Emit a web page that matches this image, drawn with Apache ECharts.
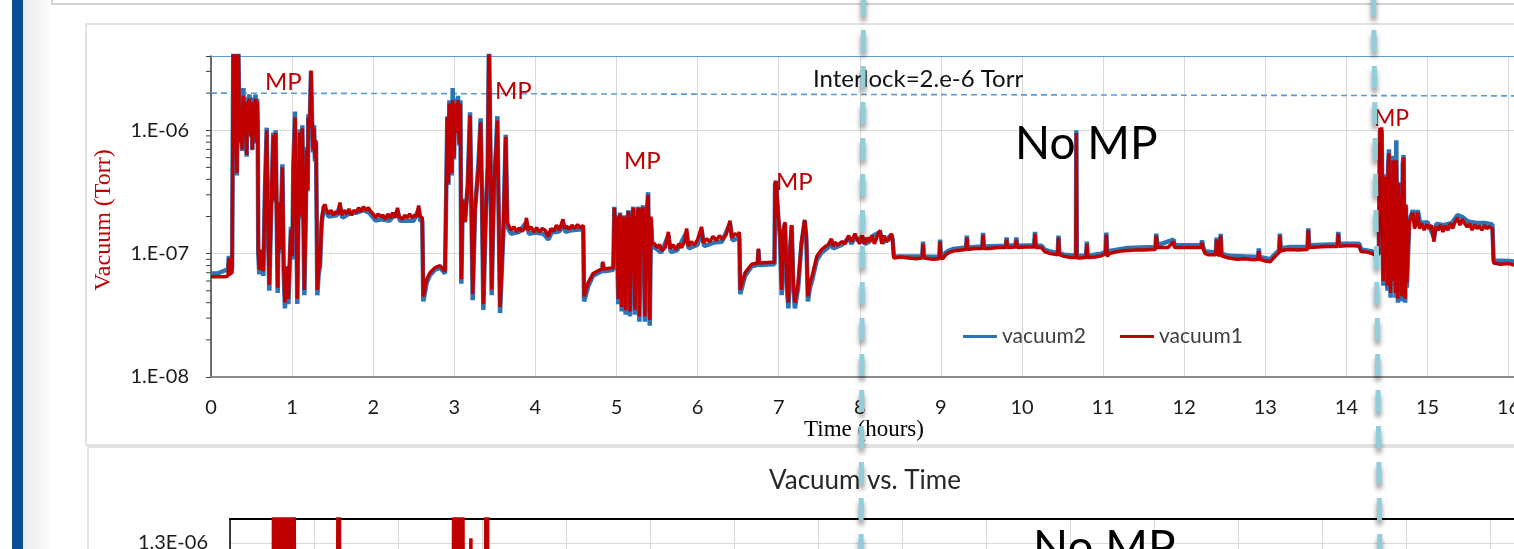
<!DOCTYPE html>
<html><head><meta charset="utf-8">
<script src="https://cdn.jsdelivr.net/npm/echarts@6/dist/echarts.min.js"></script>
<style>html,body{margin:0;padding:0;background:#fff;overflow:hidden}#c{width:1514px;height:549px}</style>
</head><body><div id="c"></div>
<script>
// ---- data (time in hours, vacuum in Torr) ----
const vacuum1 = [
[0.00,6.5e-8],[0.08,6.5e-8],[0.17,6.5e-8],[0.21,6.6e-8],[0.22,9.2e-8],[0.23,6.8e-8],[0.26,7.0e-8],
[0.275,5e-6],[0.29,6e-6],[0.305,1.1e-6],[0.32,4.5e-7],[0.335,6e-6],[0.35,1.05e-6],
[0.355,1.3e-6],[0.362,8e-7],[0.37,1.5e-6],[0.377,9e-7],[0.385,7e-7],[0.392,1.6e-6],[0.40,1.9e-6],[0.407,1.1e-6],[0.415,1.0e-6],[0.42,1.6e-6],[0.425,1.7e-6],[0.432,9e-7],[0.44,6.3e-7],[0.445,1.4e-6],[0.45,1.6e-6],[0.455,1.0e-6],[0.46,1.2e-6],[0.467,1.7e-6],[0.475,1.8e-6],[0.482,1.1e-6],[0.49,9e-7],[0.495,1.5e-6],[0.50,1.7e-6],[0.505,1.1e-6],[0.51,7e-7],[0.517,1.3e-6],[0.525,1.5e-6],[0.53,1.2e-6],[0.535,1.0e-6],[0.542,1.6e-6],[0.55,1.8e-6],[0.555,1.1e-6],[0.56,8e-7],[0.565,1.5e-6],[0.57,1.7e-6],[0.576,1.2e-6],
[0.583,1.08e-7],[0.596,7.4e-8],[0.615,1.08e-7],[0.645,7.2e-8],[0.665,3.1e-7],[0.687,1.0e-6],[0.70,2.0e-7],[0.719,5.6e-8],[0.745,2.7e-7],[0.768,9.1e-7],[0.782,2.7e-7],[0.797,9.5e-7],[0.822,5.3e-8],[0.838,2.6e-7],[0.851,1.08e-7],[0.880,5.0e-7],[0.896,7.9e-8],[0.912,4.0e-8],[0.933,7.9e-8],[0.954,4.3e-8],[0.975,1.08e-7],[0.986,1.56e-7],[1.003,9.5e-8],[1.015,4.75e-7],[1.036,1.27e-6],[1.052,2.0e-7],[1.064,4.3e-8],[1.080,2.7e-7],[1.097,9.6e-7],[1.110,2.0e-7],[1.126,1.04e-6],[1.151,5.1e-8],[1.168,2.0e-7],[1.180,6.9e-7],[1.192,3.3e-7],[1.200,1.27e-6],[1.217,1.05e-6],[1.233,3.05e-6],[1.245,1.27e-6],[1.258,6.9e-7],[1.270,1.05e-6],[1.282,6.0e-7],[1.295,8.3e-7],[1.311,5.1e-8],[1.328,7.4e-8],[1.344,8.4e-8],[1.365,1.88e-7],[1.385,2.4e-7],[1.406,2.5e-7],
[1.42,2.3e-7],[1.45,2.1e-7],[1.48,2.25e-7],[1.51,2.05e-7],[1.54,2.2e-7],[1.57,2.1e-7],[1.59,2.6e-7],[1.61,2.05e-7],[1.64,2.25e-7],[1.67,2.1e-7],[1.70,2.3e-7],[1.73,2.05e-7],[1.76,2.25e-7],[1.79,2.15e-7],[1.82,2.35e-7],[1.85,2.2e-7],[1.88,2.4e-7],[1.91,2.25e-7],[1.94,2.35e-7],[1.97,2.2e-7],[2.00,2.1e-7],[2.03,1.95e-7],[2.06,2.1e-7],[2.09,2.0e-7],[2.12,2.05e-7],[2.15,1.9e-7],[2.18,2.1e-7],[2.21,1.95e-7],[2.24,2.15e-7],[2.27,1.95e-7],[2.30,2.35e-7],[2.32,2.0e-7],[2.36,1.9e-7],[2.39,2.05e-7],[2.42,1.95e-7],[2.45,2.1e-7],[2.48,1.95e-7],[2.51,2.05e-7],[2.54,2.0e-7],[2.56,2.45e-7],[2.58,2.0e-7],[2.605,1.95e-7],
[2.618,4.5e-8],[2.659,6.2e-8],[2.70,7.0e-8],[2.762,7.7e-8],[2.824,8.0e-8],[2.886,7.2e-8],[2.905,7.3e-8],[2.914,1.27e-6],[2.927,3.7e-7],[2.939,1.65e-6],[2.955,6.9e-7],[2.968,4.5e-7],[2.980,1.75e-6],[2.997,6.0e-7],[3.009,1.65e-6],[3.030,9.5e-7],[3.046,1.75e-6],[3.063,7.8e-7],[3.075,1.65e-6],[3.087,6.2e-8],[3.104,2.7e-7],[3.132,1.8e-7],[3.165,3.5e-7],[3.194,1.32e-6],[3.210,2.7e-7],[3.227,4.7e-8],[3.256,2.27e-7],[3.297,5.0e-7],[3.325,1.16e-6],[3.342,2.7e-7],[3.358,3.9e-8],[3.391,2.4e-7],[3.412,5.0e-7],[3.428,6e-6],[3.445,6.9e-7],[3.461,5.1e-8],[3.490,3.7e-7],[3.515,6.9e-7],[3.531,1.2e-6],[3.548,2.0e-7],[3.564,3.7e-8],[3.605,1.56e-7],[3.634,8.8e-7],[3.654,1.78e-7],
[3.67,1.75e-7],[3.70,1.55e-7],[3.735,1.65e-7],[3.77,1.5e-7],[3.80,1.62e-7],[3.835,1.52e-7],[3.87,1.6e-7],[3.89,1.95e-7],[3.91,1.55e-7],[3.945,1.65e-7],[3.98,1.5e-7],[4.015,1.62e-7],[4.05,1.5e-7],[4.085,1.6e-7],[4.12,1.55e-7],[4.16,1.38e-7],[4.19,1.6e-7],[4.225,1.52e-7],[4.26,1.7e-7],[4.295,1.55e-7],[4.34,1.9e-7],[4.36,1.6e-7],[4.38,1.68e-7],[4.415,1.58e-7],[4.45,1.7e-7],[4.485,1.6e-7],[4.52,1.72e-7],[4.555,1.62e-7],[4.59,1.7e-7],
[4.60,4.5e-8],[4.65,5.8e-8],[4.71,6.9e-8],[4.797,7.4e-8],[4.825,7.5e-8],[4.83,8.6e-8],[4.846,7.5e-8],[4.961,7.7e-8],
[4.973,2.35e-7],[4.99,1.3e-7],[5.002,2.0e-7],[5.022,4.3e-8],[5.035,1.5e-7],[5.043,2.1e-7],[5.064,3.7e-8],[5.08,1.8e-7],[5.093,2.0e-7],[5.113,3.5e-8],[5.13,1.6e-7],[5.146,2.2e-7],[5.167,3.4e-8],[5.19,1.9e-7],[5.208,2.35e-7],[5.228,3.5e-8],[5.245,1.7e-7],[5.269,2.35e-7],[5.282,3.1e-8],[5.30,2.2e-7],[5.33,2.35e-7],[5.35,3.1e-8],[5.37,2.0e-7],[5.39,3.0e-7],[5.41,2.9e-8],[5.425,2.0e-7],[5.44,1.23e-7],
[5.47,1.2e-7],[5.50,1.12e-7],[5.53,1.18e-7],[5.56,1.06e-7],[5.60,1.12e-7],[5.64,1.5e-7],[5.66,1.1e-7],[5.70,1.18e-7],[5.73,1.08e-7],[5.77,1.2e-7],[5.80,1.12e-7],[5.84,1.25e-7],[5.865,1.6e-7],[5.885,1.15e-7],[5.92,1.25e-7],[5.96,1.18e-7],[6.00,1.3e-7],[6.05,1.65e-7],[6.07,1.22e-7],[6.11,1.32e-7],[6.15,1.25e-7],[6.19,1.38e-7],[6.23,1.28e-7],[6.27,1.4e-7],[6.31,1.3e-7],[6.35,1.42e-7],[6.40,1.85e-7],[6.42,1.35e-7],[6.46,1.45e-7],[6.50,1.4e-7],[6.515,1.5e-7],
[6.525,5.1e-8],[6.585,7.0e-8],[6.667,8.2e-8],[6.74,8.4e-8],[6.75,1.1e-7],[6.76,8.4e-8],[6.913,8.5e-8],[6.948,8.5e-8],
[6.955,3.7e-7],[6.967,3.85e-7],[6.996,2.0e-7],[7.016,1.4e-7],[7.037,5.1e-8],[7.058,1.56e-7],[7.078,1.8e-7],[7.10,5.8e-8],[7.12,4.0e-8],[7.14,1.1e-7],[7.16,1.7e-7],[7.18,5.8e-8],[7.20,4.0e-8],[7.22,4.8e-8],[7.24,5.8e-8],[7.28,1.23e-7],[7.32,1.88e-7],[7.34,1.4e-7],[7.36,4.5e-8],[7.385,5.8e-8],
[7.41,6.5e-8],[7.47,9.5e-8],[7.53,1.08e-7],[7.58,1.15e-7],[7.61,1.18e-7],[7.65,1.32e-7],[7.67,1.15e-7],[7.69,1.23e-7],[7.73,1.18e-7],[7.78,1.25e-7],[7.82,1.2e-7],[7.86,1.4e-7],[7.90,1.25e-7],[7.94,1.45e-7],
[7.97,1.3e-7],[8.00,1.2e-7],[8.03,1.4e-7],[8.06,1.2e-7],[8.09,1.35e-7],[8.12,1.25e-7],[8.15,1.4e-7],[8.18,1.2e-7],[8.21,1.35e-7],[8.25,1.55e-7],[8.27,1.2e-7],[8.30,1.4e-7],[8.33,1.25e-7],[8.36,1.3e-7],[8.39,1.45e-7],[8.405,1.3e-7],
[8.42,9.2e-8],[8.50,9.4e-8],[8.60,9.2e-8],[8.70,9.1e-8],[8.77,9.2e-8],[8.78,1.2e-7],[8.79,9.2e-8],[8.90,9.0e-8],[8.98,9.1e-8],[8.99,1.25e-7],[9.00,9.1e-8],[9.03,9.2e-8],[9.06,9.8e-8],[9.10,1.02e-7],[9.15,1.05e-7],[9.20,1.06e-7],[9.31,1.08e-7],[9.32,1.35e-7],[9.33,1.08e-7],[9.42,1.1e-7],[9.51,1.1e-7],[9.52,1.42e-7],[9.53,1.1e-7],[9.60,1.1e-7],[9.70,1.12e-7],[9.80,1.12e-7],[9.81,1.3e-7],[9.82,1.12e-7],[9.92,1.13e-7],[9.93,1.3e-7],[9.94,1.12e-7],[10.05,1.13e-7],[10.15,1.13e-7],[10.16,1.45e-7],[10.17,1.12e-7],[10.24,1.12e-7],[10.28,1.04e-7],[10.35,1.0e-7],[10.44,9.8e-8],[10.45,1.35e-7],[10.46,9.8e-8],[10.52,9.5e-8],[10.60,9.3e-8],[10.665,9.3e-8],[10.67,9.5e-7],[10.675,9.3e-8],[10.70,9.2e-8],[10.79,9.3e-8],[10.80,1.2e-7],[10.81,9.3e-8],[10.90,9.4e-8],[10.98,9.6e-8],[11.03,1.0e-7],[11.04,1.42e-7],[11.05,9.5e-8],[11.08,1.0e-7],[11.15,1.03e-7],[11.22,1.05e-7],[11.30,1.06e-7],[11.40,1.07e-7],[11.50,1.07e-7],[11.60,1.08e-7],[11.645,1.08e-7],[11.655,1.4e-7],[11.67,1.12e-7],[11.80,1.12e-7],[11.87,1.25e-7],[11.88,1.12e-7],[12.00,1.12e-7],[12.10,1.12e-7],[12.21,1.12e-7],[12.22,1.23e-7],[12.23,1.1e-7],[12.26,1.0e-7],[12.30,9.8e-8],[12.39,9.8e-8],[12.40,1.3e-7],[12.41,9.8e-8],[12.44,9.7e-8],[12.45,1.4e-7],[12.46,9.6e-8],[12.55,9.2e-8],[12.65,9.0e-8],[12.75,9.1e-8],[12.85,8.9e-8],[12.91,9.0e-8],[12.92,1.05e-7],[12.93,9.0e-8],[13.00,8.7e-8],[13.06,8.6e-8],[13.12,9.5e-8],[13.17,1.02e-7],[13.18,1.4e-7],[13.19,1.05e-7],[13.24,1.07e-7],[13.30,1.08e-7],[13.40,1.07e-7],[13.52,1.08e-7],[13.53,1.56e-7],[13.54,1.12e-7],[13.65,1.13e-7],[13.75,1.14e-7],[13.89,1.14e-7],[13.90,1.45e-7],[13.91,1.15e-7],[14.00,1.16e-7],[14.10,1.16e-7],[14.16,1.15e-7],[14.18,1.04e-7],[14.25,1.03e-7],[14.32,1.0e-7],[14.37,9.6e-8],[14.40,1.0e-7],
[14.414,1.05e-6],[14.425,3e-7],[14.435,1.06e-6],[14.445,2e-7],[14.455,6e-8],[14.465,3.5e-7],[14.475,8e-8],[14.485,4.2e-7],[14.495,1.5e-7],[14.505,5.5e-8],[14.515,5e-7],[14.525,6.5e-7],[14.535,1.2e-7],[14.545,4.8e-8],[14.555,4e-7],[14.565,6e-8],[14.575,5.7e-7],[14.585,2.5e-7],[14.595,5.5e-7],[14.605,4.8e-8],[14.615,5.7e-7],[14.625,1.5e-7],[14.635,4.3e-8],[14.645,3.7e-7],[14.655,6e-8],[14.665,3e-7],[14.675,1.2e-7],[14.685,4.5e-8],[14.695,5e-7],[14.705,6.0e-7],[14.715,1.5e-7],[14.725,4.3e-8],[14.735,2.5e-7],[14.745,5.8e-8],[14.755,8.4e-8],[14.775,1.8e-7],
[14.79,1.75e-7],[14.82,2.15e-7],[14.84,1.6e-7],[14.86,1.75e-7],[14.88,2.15e-7],[14.90,1.6e-7],[14.93,1.75e-7],[14.96,1.55e-7],[14.99,1.72e-7],[15.02,1.6e-7],[15.05,1.7e-7],[15.08,1.25e-7],[15.10,1.65e-7],[15.13,1.55e-7],[15.16,1.7e-7],[15.19,1.5e-7],[15.22,1.68e-7],[15.25,1.55e-7],[15.28,1.75e-7],[15.31,1.6e-7],[15.34,1.8e-7],[15.37,1.95e-7],[15.40,1.7e-7],[15.43,1.9e-7],[15.46,1.75e-7],[15.49,1.65e-7],[15.52,1.75e-7],[15.55,1.55e-7],[15.58,1.72e-7],[15.61,1.6e-7],[15.64,1.68e-7],[15.67,1.55e-7],[15.70,1.7e-7],[15.73,1.6e-7],[15.76,1.65e-7],[15.80,1.6e-7],
[15.815,8.4e-8],[15.90,8.2e-8],[16.00,8.3e-8],[16.10,8.0e-8],[16.30,8.0e-8]
];

const vacuum2 = [
[0.00,6.9e-8],[0.08,6.9e-8],[0.17,7.3e-8],[0.21,7.4e-8],[0.22,9.6e-8],[0.23,7.4e-8],[0.26,7.6e-8],
[0.275,5e-6],[0.29,6e-6],[0.305,1.15e-6],[0.32,4.3e-7],[0.335,6e-6],[0.35,1.1e-6],
[0.355,1.4e-6],[0.362,7.8e-7],[0.37,1.6e-6],[0.377,8.8e-7],[0.385,6.8e-7],[0.392,1.75e-6],[0.40,2.2e-6],[0.407,1.15e-6],[0.415,1.0e-6],[0.42,1.75e-6],[0.425,1.85e-6],[0.432,8.8e-7],[0.44,6.1e-7],[0.445,1.5e-6],[0.45,1.75e-6],[0.455,1.0e-6],[0.46,1.25e-6],[0.467,1.85e-6],[0.475,1.95e-6],[0.482,1.1e-6],[0.49,8.8e-7],[0.495,1.6e-6],[0.50,1.85e-6],[0.505,1.1e-6],[0.51,6.9e-7],[0.517,1.4e-6],[0.525,1.6e-6],[0.53,1.25e-6],[0.535,1.0e-6],[0.542,1.75e-6],[0.55,1.95e-6],[0.555,1.1e-6],[0.56,7.8e-7],[0.565,1.6e-6],[0.57,1.8e-6],[0.576,1.2e-6],
[0.583,1.0e-7],[0.596,6.8e-8],[0.615,1.05e-7],[0.645,6.6e-8],[0.665,3.2e-7],[0.687,1.05e-6],[0.70,1.9e-7],[0.719,5.0e-8],[0.745,2.8e-7],[0.768,9.6e-7],[0.782,2.6e-7],[0.797,1.0e-6],[0.822,4.8e-8],[0.838,2.6e-7],[0.851,1.0e-7],[0.880,5.3e-7],[0.896,7.3e-8],[0.912,3.6e-8],[0.933,7.3e-8],[0.954,3.9e-8],[0.975,1.0e-7],[0.986,1.65e-7],[1.003,9.0e-8],[1.015,5.0e-7],[1.036,1.42e-6],[1.052,1.9e-7],[1.064,3.9e-8],[1.080,2.8e-7],[1.097,1.02e-6],[1.110,1.9e-7],[1.126,1.1e-6],[1.151,4.6e-8],[1.168,1.9e-7],[1.180,7.3e-7],[1.192,3.2e-7],[1.200,1.35e-6],[1.217,1.1e-6],[1.233,3.0e-6],[1.245,1.3e-6],[1.258,6.6e-7],[1.270,1.1e-6],[1.282,5.6e-7],[1.295,8.0e-7],[1.311,4.6e-8],[1.328,6.9e-8],[1.344,7.9e-8],[1.365,1.8e-7],[1.385,2.2e-7],[1.406,2.3e-7],
[1.45,2.0e-7],[1.55,2.05e-7],[1.59,2.45e-7],[1.62,1.95e-7],[1.70,2.1e-7],[1.80,2.15e-7],[1.88,2.25e-7],[1.95,2.15e-7],[2.03,1.85e-7],[2.10,1.9e-7],[2.20,1.85e-7],[2.30,2.2e-7],[2.33,1.85e-7],[2.40,1.85e-7],[2.50,1.85e-7],[2.56,2.3e-7],[2.58,1.85e-7],[2.605,1.85e-7],
[2.618,4.1e-8],[2.659,5.8e-8],[2.70,6.7e-8],[2.762,7.4e-8],[2.824,7.7e-8],[2.886,6.9e-8],[2.905,7.0e-8],[2.914,1.3e-6],[2.927,3.6e-7],[2.939,1.75e-6],[2.955,6.7e-7],[2.968,4.3e-7],[2.980,2.2e-6],[2.997,5.8e-7],[3.009,1.8e-6],[3.030,9.5e-7],[3.046,1.9e-6],[3.063,7.5e-7],[3.075,1.75e-6],[3.087,5.7e-8],[3.104,2.8e-7],[3.132,1.8e-7],[3.165,3.6e-7],[3.194,1.4e-6],[3.210,2.6e-7],[3.227,4.2e-8],[3.256,2.3e-7],[3.297,5.2e-7],[3.325,1.25e-6],[3.342,2.6e-7],[3.358,3.5e-8],[3.391,2.4e-7],[3.412,5.2e-7],[3.428,6e-6],[3.445,6.7e-7],[3.461,4.6e-8],[3.490,3.8e-7],[3.515,7.2e-7],[3.531,1.3e-6],[3.548,1.9e-7],[3.564,3.3e-8],[3.605,1.5e-7],[3.634,9.2e-7],[3.654,1.65e-7],
[3.70,1.45e-7],[3.80,1.5e-7],[3.89,1.8e-7],[3.92,1.45e-7],[4.00,1.48e-7],[4.10,1.45e-7],[4.16,1.3e-7],[4.20,1.48e-7],[4.30,1.52e-7],[4.34,1.75e-7],[4.37,1.5e-7],[4.45,1.55e-7],[4.59,1.58e-7],
[4.60,4.1e-8],[4.65,5.4e-8],[4.71,6.6e-8],[4.797,7.1e-8],[4.825,7.2e-8],[4.83,8.4e-8],[4.846,7.2e-8],[4.961,7.4e-8],
[4.973,2.4e-7],[4.99,1.25e-7],[5.002,2.05e-7],[5.022,3.9e-8],[5.035,1.45e-7],[5.043,2.15e-7],[5.064,3.4e-8],[5.08,1.75e-7],[5.093,2.05e-7],[5.113,3.2e-8],[5.13,1.55e-7],[5.146,2.25e-7],[5.167,3.1e-8],[5.19,1.85e-7],[5.208,2.4e-7],[5.228,3.2e-8],[5.245,1.65e-7],[5.269,2.4e-7],[5.282,2.8e-8],[5.30,2.15e-7],[5.33,2.45e-7],[5.35,2.8e-8],[5.37,1.95e-7],[5.39,3.15e-7],[5.41,2.6e-8],[5.425,1.9e-7],[5.44,1.15e-7],
[5.47,1.12e-7],[5.55,1.02e-7],[5.64,1.4e-7],[5.67,1.03e-7],[5.75,1.07e-7],[5.865,1.5e-7],[5.89,1.1e-7],[6.00,1.18e-7],[6.05,1.55e-7],[6.08,1.15e-7],[6.20,1.23e-7],[6.30,1.25e-7],[6.40,1.75e-7],[6.43,1.28e-7],[6.515,1.35e-7],
[6.525,4.7e-8],[6.585,6.6e-8],[6.667,7.9e-8],[6.74,8.1e-8],[6.75,1.08e-7],[6.76,8.1e-8],[6.913,8.2e-8],[6.948,8.2e-8],
[6.955,3.6e-7],[6.967,3.9e-7],[6.996,1.9e-7],[7.016,1.35e-7],[7.037,4.6e-8],[7.058,1.5e-7],[7.078,1.75e-7],[7.10,5.3e-8],[7.12,3.6e-8],[7.14,1.05e-7],[7.16,1.7e-7],[7.18,5.3e-8],[7.20,3.6e-8],[7.22,4.4e-8],[7.24,5.3e-8],[7.28,1.18e-7],[7.32,1.85e-7],[7.34,1.35e-7],[7.36,4.1e-8],[7.385,5.3e-8],
[7.41,6.0e-8],[7.47,8.9e-8],[7.53,1.02e-7],[7.61,1.12e-7],[7.65,1.28e-7],[7.67,1.1e-7],[7.78,1.18e-7],[7.86,1.33e-7],[7.90,1.2e-7],[7.94,1.38e-7],
[7.97,1.28e-7],[8.03,1.38e-7],[8.06,1.2e-7],[8.12,1.25e-7],[8.15,1.38e-7],[8.25,1.5e-7],[8.28,1.22e-7],[8.39,1.42e-7],[8.405,1.3e-7],
[8.42,9.5e-8],[8.77,9.5e-8],[8.78,1.25e-7],[8.79,9.5e-8],[8.98,9.4e-8],[8.99,1.3e-7],[9.00,9.4e-8],[9.03,9.5e-8],[9.06,1.02e-7],[9.10,1.06e-7],[9.15,1.09e-7],[9.31,1.12e-7],[9.32,1.4e-7],[9.33,1.12e-7],[9.51,1.14e-7],[9.52,1.47e-7],[9.53,1.14e-7],[9.80,1.16e-7],[9.81,1.35e-7],[9.82,1.16e-7],[9.92,1.17e-7],[9.93,1.35e-7],[9.94,1.16e-7],[10.15,1.17e-7],[10.16,1.5e-7],[10.17,1.16e-7],[10.24,1.16e-7],[10.28,1.08e-7],[10.35,1.04e-7],[10.44,1.01e-7],[10.45,1.4e-7],[10.46,1.01e-7],[10.52,9.8e-8],[10.665,9.6e-8],[10.67,1.0e-6],[10.675,9.6e-8],[10.79,9.6e-8],[10.80,1.25e-7],[10.81,9.6e-8],[10.98,1.0e-7],[11.03,1.04e-7],[11.04,1.48e-7],[11.05,9.9e-8],[11.08,1.05e-7],[11.30,1.11e-7],[11.645,1.13e-7],[11.655,1.45e-7],[11.67,1.17e-7],[11.87,1.3e-7],[11.88,1.17e-7],[12.21,1.17e-7],[12.22,1.28e-7],[12.23,1.14e-7],[12.26,1.04e-7],[12.39,1.02e-7],[12.40,1.35e-7],[12.41,1.02e-7],[12.44,1.01e-7],[12.45,1.45e-7],[12.46,1.0e-7],[12.55,9.6e-8],[12.75,9.5e-8],[12.91,9.4e-8],[12.92,1.1e-7],[12.93,9.4e-8],[13.06,9.0e-8],[13.12,9.9e-8],[13.17,1.06e-7],[13.18,1.45e-7],[13.19,1.1e-7],[13.30,1.13e-7],[13.52,1.13e-7],[13.53,1.6e-7],[13.54,1.17e-7],[13.89,1.19e-7],[13.90,1.5e-7],[13.91,1.2e-7],[14.16,1.2e-7],[14.18,1.08e-7],[14.32,1.04e-7],[14.37,1.0e-7],[14.40,1.03e-7],
[14.414,1.0e-6],[14.425,2.9e-7],[14.435,1.0e-6],[14.445,1.9e-7],[14.455,5.5e-8],[14.465,3.6e-7],[14.475,7.5e-8],[14.485,4.4e-7],[14.495,1.4e-7],[14.505,5.0e-8],[14.515,5.3e-7],[14.525,7.0e-7],[14.535,1.1e-7],[14.545,4.4e-8],[14.555,4.2e-7],[14.565,5.5e-8],[14.575,6.2e-7],[14.585,2.4e-7],[14.595,6.0e-7],[14.605,4.4e-8],[14.615,8.3e-7],[14.625,1.4e-7],[14.635,4.0e-8],[14.645,3.8e-7],[14.655,5.5e-8],[14.665,3.1e-7],[14.675,1.1e-7],[14.685,4.1e-8],[14.695,5.3e-7],[14.705,6.3e-7],[14.715,1.4e-7],[14.725,4.0e-8],[14.735,2.4e-7],[14.745,5.3e-8],[14.755,8.0e-8],[14.775,1.85e-7],
[14.79,1.87e-7],[14.82,2.25e-7],[14.85,1.77e-7],[14.88,2.25e-7],[14.91,1.77e-7],[15.00,1.8e-7],[15.08,1.35e-7],[15.11,1.75e-7],[15.20,1.7e-7],[15.30,1.77e-7],[15.37,2.05e-7],[15.43,1.98e-7],[15.50,1.82e-7],[15.60,1.77e-7],[15.70,1.77e-7],[15.80,1.72e-7],
[15.815,8.8e-8],[16.00,8.7e-8],[16.30,8.4e-8]
];

const interlock = [[0, 2.0e-6], [16.1, 1.9e-6], [17, 1.89e-6]];
const minorTicks = [2e-8,3e-8,4e-8,5e-8,6e-8,7e-8,8e-8,9e-8,2e-7,3e-7,4e-7,5e-7,6e-7,7e-7,8e-7,9e-7,2e-6,3e-6];
const seriesNames = ['vacuum2', 'vacuum1'];

// ---- chart ----
const chart = echarts.init(document.getElementById('c'), null, {renderer: 'canvas'});
const FONT = 'Lato, "Open Sans", sans-serif';
const SERIF = '"Liberation Serif", "DejaVu Serif", serif';

function logLabel(v) {
  const e = Math.round(Math.log10(v));
  if (Math.abs(v / Math.pow(10, e) - 1) > 1e-6) return '';
  return '1.E' + (e < 0 ? '-' : '+') + String(Math.abs(e)).padStart(2, '0');
}
function expLabel(v) {
  const s = v.toExponential(1).split('e');
  const e = parseInt(s[1], 10);
  return s[0] + 'E' + (e < 0 ? '-' : '+') + String(Math.abs(e)).padStart(2, '0');
}

const G2W = 1400;
const G2SCALE = 67.4;   // px per hour in the lower chart
const mpStyle = {fill: '#c00000', fontSize: 24, fontFamily: FONT, align: 'left', verticalAlign: 'middle'};
const vDash = {stroke: '#92cddc', lineWidth: 5, lineDash: [22, 14], shadowBlur: 5, shadowColor: 'rgba(0,0,0,0.45)', shadowOffsetX: 0, shadowOffsetY: 5};
const option = {
  animation: false,
  textStyle: {fontFamily: FONT},
  legend: {
    data: seriesNames, left: 963, top: 326, padding: 0, icon: 'rect', itemWidth: 34, itemHeight: 3, itemGap: 34,
    textStyle: {fontSize: 21, color: '#404040', fontFamily: FONT}
  },
  grid: [
    {left: 211, top: 56, width: 17 * 81.1, height: 321, containLabel: false, outerBoundsMode: 'none'},
    {left: 230, top: 519, width: G2W, height: 336, containLabel: false, outerBoundsMode: 'none'}
  ],
  xAxis: [
    {gridIndex: 0, type: 'value', min: 0, max: 17, interval: 1, position: 'bottom',
     axisLine: {show: true, onZero: false, lineStyle: {color: '#8c8c8c', width: 2}},
     axisTick: {show: false},
     axisLabel: {fontSize: 20, color: '#1a1a1a', margin: 21, fontFamily: FONT},
     splitLine: {show: true, lineStyle: {color: '#d9d9d9', width: 1}}},
    {gridIndex: 0, type: 'value', min: 0, max: 17, position: 'top',
     axisLine: {show: true, onZero: false, lineStyle: {color: '#5b9bd5', width: 1.2}},
     axisTick: {show: false}, axisLabel: {show: false}, splitLine: {show: false}},
    {gridIndex: 1, type: 'value', min: 0, max: G2W / 84, interval: 1, position: 'top',
     axisLine: {show: true, onZero: false, lineStyle: {color: '#000', width: 2}},
     axisTick: {show: false}, axisLabel: {show: false},
     splitLine: {show: true, lineStyle: {color: '#d9d9d9', width: 1}}},
    {gridIndex: 1, type: 'value', min: -0.38, max: -0.38 + G2W / G2SCALE, show: false}
  ],
  yAxis: [
    {gridIndex: 0, type: 'log', logBase: 10, min: 1e-8, max: 4e-6,
     axisLine: {show: true, onZero: false, lineStyle: {color: '#404040', width: 1.5}},
     axisTick: {show: true, length: 5, inside: false, lineStyle: {color: '#404040', width: 1}},
     axisLabel: {formatter: logLabel, fontSize: 20, color: '#1a1a1a', margin: 22, fontFamily: FONT},
     splitLine: {show: true, lineStyle: {color: '#d9d9d9', width: 1}}},
    {gridIndex: 1, type: 'value', min: 0, max: 1.4e-6, interval: 1e-7,
     axisLine: {show: true, onZero: false, lineStyle: {color: '#000', width: 1.5}},
     axisTick: {show: false},
     axisLabel: {formatter: expLabel, showMaxLabel: false, fontSize: 20, color: '#1a1a1a', margin: 22, fontFamily: FONT},
     splitLine: {show: true, lineStyle: {color: '#d9d9d9', width: 1}}}
  ],
  series: [
    {name: 'vacuum2', type: 'line', xAxisIndex: 0, yAxisIndex: 0, data: vacuum2, symbol: 'none',
     color: '#2e75b6', lineStyle: {width: 4.5, color: '#2e75b6'}, z: 2, clip: true, silent: true},
    {name: 'vacuum1', type: 'line', xAxisIndex: 0, yAxisIndex: 0, data: vacuum1, symbol: 'none',
     color: '#c00000', lineStyle: {width: 3.5, color: '#c00000'}, z: 3, clip: true, silent: true},
    {name: 'Interlock', type: 'line', xAxisIndex: 0, yAxisIndex: 0, data: interlock, symbol: 'none',
     lineStyle: {width: 1.6, color: '#5b9bd5', type: [6, 4]}, z: 1, silent: true},
    {name: 'minor', type: 'custom', xAxisIndex: 0, yAxisIndex: 0, clip: false, silent: true, z: 5,
     data: minorTicks.map(v => [0, v]),
     renderItem: function (params, api) {
       const p = api.coord([0, api.value(1)]);
       return {type: 'line', shape: {x1: p[0] - 5, y1: p[1], x2: p[0], y2: p[1]},
               style: {stroke: '#404040', lineWidth: 1}};
     }},
    {name: 'vacuum1 (linear)', type: 'line', xAxisIndex: 3, yAxisIndex: 1, data: vacuum1, symbol: 'none',
     color: '#c00000', lineStyle: {width: 3.5, color: '#c00000'}, z: 3, clip: true, silent: true}
  ],
  graphic: [
    {type: 'rect', z: -20, silent: true, shape: {x: 23, y: 0, width: 26, height: 549},
     style: {fill: {type: 'linear', x: 0, y: 0, x2: 1, y2: 0, colorStops: [{offset: 0, color: 'rgba(0,0,0,0.08)'}, {offset: 1, color: 'rgba(0,0,0,0.02)'}]}}},
    {type: 'rect', z: -10, silent: true, shape: {x: 12, y: 0, width: 11, height: 549}, style: {fill: '#0b4c98'}},
    {type: 'rect', z: -10, silent: true, shape: {x: 52, y: -10, width: 1600, height: 14}, style: {fill: '#fff', stroke: '#d4d4d4', lineWidth: 2}},
    {type: 'rect', z: -10, silent: true, shape: {x: 86, y: 24, width: 1600, height: 421}, style: {fill: '#fff', stroke: '#d9d9d9', lineWidth: 1.5}},
    {type: 'rect', z: -10, silent: true, shape: {x: 88, y: 447, width: 1600, height: 300}, style: {fill: '#fff', stroke: '#d9d9d9', lineWidth: 1.5}},

    {type: 'text', z: 50, silent: true, x: 265, y: 82, style: Object.assign({text: 'MP'}, mpStyle)},
    {type: 'text', z: 50, silent: true, x: 495, y: 91, style: Object.assign({text: 'MP'}, mpStyle)},
    {type: 'text', z: 50, silent: true, x: 624, y: 161, style: Object.assign({text: 'MP'}, mpStyle)},
    {type: 'text', z: 50, silent: true, x: 776, y: 182, style: Object.assign({text: 'MP'}, mpStyle)},
    {type: 'text', z: 50, silent: true, x: 1374, y: 119, style: Object.assign({text: 'MP'}, mpStyle, {fontSize: 23})},
    {type: 'text', z: 50, silent: true, x: 813, y: 79, style: {text: 'Interlock=2.e-6 Torr', fill: '#111', fontSize: 24, fontFamily: FONT, align: 'left', verticalAlign: 'middle'}},
    {type: 'text', z: 50, silent: true, x: 1015, y: 144, style: {text: 'No MP', fill: '#000', fontSize: 46, fontFamily: FONT, align: 'left', verticalAlign: 'middle'}},
    {type: 'text', z: 50, silent: true, x: 1033, y: 548, style: {text: 'No MP', fill: '#000', fontSize: 46, fontFamily: FONT, align: 'left', verticalAlign: 'middle'}},
    {type: 'text', z: 50, silent: true, x: 864, y: 430, style: {text: 'Time (hours)', fill: '#000', fontSize: 23, fontFamily: SERIF, align: 'center', verticalAlign: 'middle'}},
    {type: 'text', z: 50, silent: true, x: 104, y: 220, rotation: Math.PI / 2, style: {text: 'Vacuum (Torr)', fill: '#c00000', fontSize: 24, fontFamily: SERIF, align: 'center', verticalAlign: 'middle'}},
    {type: 'text', z: 50, silent: true, x: 865, y: 481, style: {text: 'Vacuum vs. Time', fill: '#262626', fontSize: 26, fontFamily: FONT, align: 'center', verticalAlign: 'middle'}},

    {type: 'line', z: 100, silent: true, shape: {x1: 863.5, y1: -6, x2: 861, y2: 560}, style: vDash},
    {type: 'line', z: 100, silent: true, shape: {x1: 1373.5, y1: -6, x2: 1380, y2: 560}, style: vDash}
  ]
};
chart.setOption(option);
</script>
</body></html>
